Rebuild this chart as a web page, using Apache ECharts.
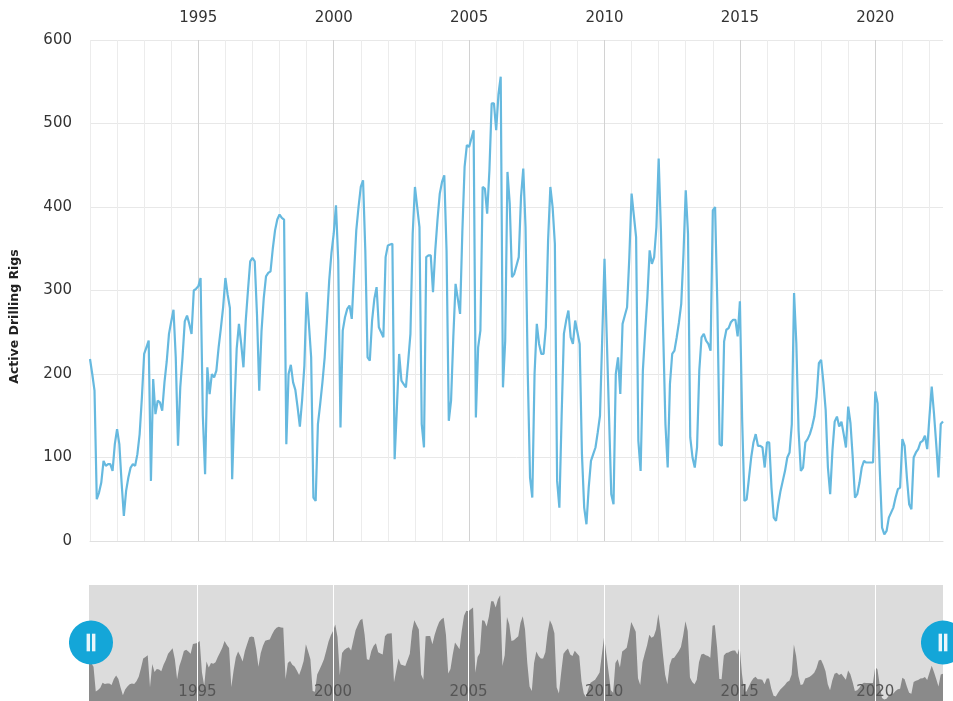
<!DOCTYPE html>
<html>
<head>
<meta charset="utf-8">
<script src="https://cdn.jsdelivr.net/npm/echarts@6/dist/echarts.min.js"></script>
<style>
  html, body { margin: 0; padding: 0; background: #ffffff; }
  #chart { width: 953px; height: 701px; }
</style>
</head>
<body>
<div id="chart"></div>
<script>
// Monthly count of active drilling rigs, starting January 1991.
const firstYear = 1991;
const rigCounts = [
  218, 200, 180, 50, 58, 70, 96, 90, 92, 92, 84, 116,        // 1991
  134, 116, 70, 30, 60, 76, 88, 92, 90, 104, 128, 172,       // 1992
  224, 232, 240, 72, 194, 152, 168, 166, 156, 190, 215, 248, // 1993
  263, 277, 220, 114, 184, 220, 263, 270, 260, 248, 300, 302, // 1994
  305, 315, 150, 80, 208, 176, 200, 196, 204, 232, 255, 280, // 1995
  315, 295, 279, 74, 160, 230, 260, 236, 208, 263, 300, 335, // 1996
  339, 335, 271, 180, 251, 291, 317, 321, 323, 350, 372, 385, // 1997
  391, 387, 385, 116, 200, 211, 190, 181, 160, 137, 169, 210, // 1998
  298, 260, 220, 52, 48, 140, 164, 190, 220, 264, 312, 345,  // 1999
  368, 402, 336, 136, 252, 268, 278, 282, 266, 320, 372, 400, // 2000
  424, 432, 348, 220, 216, 264, 290, 304, 256, 250, 244, 340, // 2001
  354, 355, 356, 98, 160, 224, 192, 188, 184, 215, 248, 368, // 2002
  424, 400, 376, 140, 112, 340, 342, 342, 298, 348, 385, 416, // 2003
  430, 438, 348, 144, 168, 244, 308, 290, 272, 370, 448, 474, // 2004
  472, 482, 492, 148, 232, 252, 424, 422, 392, 444, 524, 524, // 2005
  492, 535, 556, 184, 240, 442, 404, 316, 320, 330, 340, 412, // 2006
  446, 376, 200, 76, 52, 200, 260, 236, 224, 224, 256, 360,  // 2007
  424, 400, 356, 72, 40, 150, 248, 264, 276, 244, 236, 264,  // 2008
  250, 236, 104, 40, 20, 64, 96, 104, 112, 130, 150, 244,    // 2009
  338, 244, 150, 56, 44, 200, 220, 176, 260, 270, 280, 340,  // 2010
  416, 390, 364, 120, 84, 204, 250, 292, 348, 332, 340, 376, // 2011
  458, 372, 250, 140, 88, 188, 224, 228, 244, 262, 284, 344, // 2012
  420, 368, 124, 100, 88, 112, 204, 244, 248, 240, 236, 228, // 2013
  396, 400, 284, 116, 114, 239, 253, 255, 262, 265, 265, 245, // 2014
  287, 145, 48, 50, 75, 100, 118, 128, 114, 114, 112, 88,    // 2015
  118, 118, 64, 28, 24, 44, 60, 72, 84, 100, 106, 140,       // 2016
  297, 237, 132, 84, 88, 118, 122, 128, 137, 149, 173, 213,  // 2017
  217, 190, 157, 88, 56, 108, 143, 149, 137, 143, 128, 112,  // 2018
  161, 141, 100, 52, 56, 70, 88, 96, 94, 94, 94, 94,         // 2019
  179, 165, 84, 16, 8, 12, 28, 34, 40, 52, 62, 64,           // 2020
  122, 114, 76, 44, 38, 100, 106, 110, 118, 120, 126, 110,   // 2021
  149, 185, 153, 116, 76, 140, 143                           // 2022
];
const tickYears = [1995, 2000, 2005, 2010, 2015, 2020];

// Month categories ("YYYY-MM") for every reading.
const monthLabels = rigCounts.map((_, i) => {
  const y = firstYear + Math.floor(i / 12);
  const m = (i % 12) + 1;
  return y + '-' + String(m).padStart(2, '0');
});
const isJanuary = (label) => label.slice(5) === '01';
const yearOf = (label) => Number(label.slice(0, 4));
const isTickYear = (label) => isJanuary(label) && tickYears.includes(yearOf(label));

const FONT = 'DejaVu Sans';
const LINE_BLUE = '#66b9df';

// Navigator handle: blue disc with a "||" grip.
const handleSvg =
  "<svg xmlns='http://www.w3.org/2000/svg' width='46' height='46' viewBox='0 0 46 46'>" +
  "<circle cx='23' cy='23' r='22.5' fill='#14a6d8'/>" +
  "<rect x='18.5' y='14' width='3.5' height='18' fill='#eaf6fb'/>" +
  "<rect x='24' y='14' width='3.5' height='18' fill='#eaf6fb'/>" +
  "</svg>";
const handleIcon = 'image://data:image/svg+xml;charset=utf-8,' + encodeURIComponent(handleSvg);

const chart = echarts.init(document.getElementById('chart'), null, { renderer: 'canvas' });

chart.setOption({
  animation: false,
  backgroundColor: '#ffffff',
  grid: [
    { left: 89, right: 10, top: 40, height: 501 },
    { left: 89, right: 10, top: 585, height: 124, show: true, backgroundColor: '#dcdcdc', borderWidth: 0 }
  ],
  xAxis: [
    {
      // year labels on top, with the five-year grid lines
      gridIndex: 0,
      type: 'category',
      data: monthLabels,
      boundaryGap: false,
      position: 'top',
      axisLine: { show: false },
      axisTick: { show: false },
      axisLabel: {
        interval: (i, v) => isTickYear(v),
        formatter: (v) => v.slice(0, 4),
        color: '#333333',
        fontFamily: FONT,
        fontSize: 15,
        margin: 14
      },
      splitLine: { show: true, interval: (i, v) => isTickYear(v), lineStyle: { color: '#d2d2d2', width: 1 } }
    },
    {
      // yearly grid lines and the baseline
      gridIndex: 0,
      type: 'category',
      data: monthLabels,
      boundaryGap: false,
      position: 'bottom',
      axisLine: { show: true, lineStyle: { color: '#e0e0e0' } },
      axisTick: { show: false },
      axisLabel: { show: false },
      splitLine: { show: true, interval: (i, v) => isJanuary(v) && !isTickYear(v), lineStyle: { color: '#ececec', width: 1 } }
    },
    {
      // navigator strip axis
      gridIndex: 1,
      type: 'category',
      data: monthLabels,
      boundaryGap: false,
      position: 'bottom',
      z: 5,
      axisLine: { show: false },
      axisTick: { show: false },
      axisLabel: {
        inside: true,
        interval: (i, v) => isTickYear(v),
        formatter: (v) => v.slice(0, 4),
        color: '#555555',
        fontFamily: FONT,
        fontSize: 15,
        margin: 1
      },
      splitLine: { show: true, interval: (i, v) => isTickYear(v), lineStyle: { color: '#ffffff', width: 1 } }
    }
  ],
  yAxis: [
    {
      gridIndex: 0,
      type: 'value',
      min: 0,
      max: 600,
      interval: 100,
      axisLine: { show: false },
      axisTick: { show: false },
      axisLabel: { color: '#333333', fontFamily: FONT, fontSize: 15, margin: 18 },
      splitLine: { lineStyle: { color: '#e8e8e8' } },
      name: 'Active Drilling Rigs',
      nameLocation: 'middle',
      nameGap: 69,
      nameTextStyle: {
        color: '#222222',
        fontFamily: FONT,
        fontWeight: 'bold',
        fontSize: 12.5,
        padding: [0, 52, 0, 0]
      }
    },
    { gridIndex: 1, type: 'value', min: 0, max: 610, show: false }
  ],
  dataZoom: [
    {
      type: 'slider',
      xAxisIndex: [0, 1, 2],
      start: 0,
      end: 100,
      left: 89,
      right: 10,
      top: 585,
      height: 115,
      backgroundColor: 'rgba(0,0,0,0)',
      borderColor: 'rgba(0,0,0,0)',
      fillerColor: 'rgba(0,0,0,0)',
      showDataShadow: false,
      showDetail: false,
      brushSelect: false,
      moveHandleSize: 0,
      handleIcon: handleIcon,
      handleSize: 45,
      handleStyle: { color: '#14a6d8', borderWidth: 0 },
      emphasis: { handleStyle: { color: '#14a6d8', borderWidth: 0 } }
    }
  ],
  series: [
    {
      type: 'line',
      xAxisIndex: 0,
      yAxisIndex: 0,
      data: rigCounts,
      symbol: 'none',
      lineStyle: { color: LINE_BLUE, width: 2.2 },
      itemStyle: { color: LINE_BLUE },
      z: 3
    },
    {
      type: 'line',
      xAxisIndex: 2,
      yAxisIndex: 1,
      data: rigCounts,
      symbol: 'none',
      lineStyle: { width: 0 },
      itemStyle: { color: '#8a8a8a' },
      areaStyle: { color: '#8a8a8a', opacity: 1 }
    }
  ]
});
</script>
</body>
</html>
